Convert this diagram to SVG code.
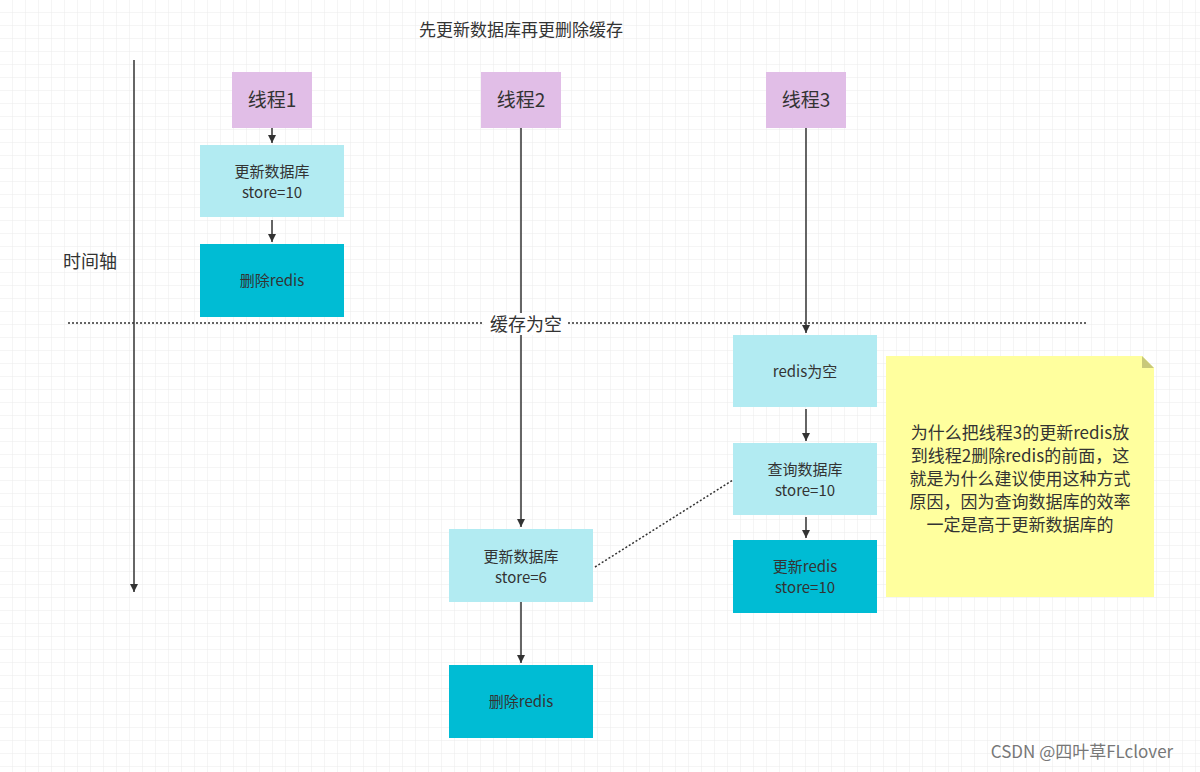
<svg xmlns="http://www.w3.org/2000/svg" width="1200" height="772" viewBox="0 0 1200 772">
<defs>
<pattern id="grid" width="13" height="13" patternUnits="userSpaceOnUse">
<path d="M13 0V13H0" fill="none" stroke="#ebebeb" stroke-width="1"/>
</pattern>
<marker id="arr" markerWidth="10" markerHeight="10" refX="9" refY="5" orient="auto" markerUnits="userSpaceOnUse">
<path d="M1 1L9 5L1 9Z" fill="#333"/>
</marker>
<style>
text{font-family:"Noto Sans CJK SC","Liberation Sans",sans-serif;fill:#333;text-anchor:middle}
.t{font-size:19px}
.s{font-size:15px}
.n{font-size:17px}
.th{fill:#e1bee7}
.lc{fill:#b2ebf2}
.dc{fill:#00bcd4}
.ln{stroke:#333;stroke-width:1.5;fill:none}
.dot{stroke:#333;stroke-width:1.5;stroke-dasharray:2 2;fill:none}
</style>
</defs>
<rect width="1200" height="772" fill="#fff"/>
<rect width="1200" height="772" fill="url(#grid)"/>
<text x="521" y="36" style="font-size:17px">先更新数据库再更删除缓存</text>
<text x="90" y="268" style="font-size:18px">时间轴</text>
<g id="connectors">
<path class="ln" d="M134 60V592" marker-end="url(#arr)"/>
<path class="dot" d="M68 323H1088"/>
<path class="ln" d="M272 128V143" marker-end="url(#arr)"/>
<path class="ln" d="M272 220V242" marker-end="url(#arr)"/>
<path class="ln" d="M521 128V527" marker-end="url(#arr)"/>
<path class="ln" d="M521 602V663" marker-end="url(#arr)"/>
<path class="ln" d="M806 128V333" marker-end="url(#arr)"/>
<path class="ln" d="M806 409V441" marker-end="url(#arr)"/>
<path class="ln" d="M806 517V538" marker-end="url(#arr)"/>
<path class="dot" d="M595 567L733 480"/>
</g>
<g id="empty-label"><rect x="484" y="313" width="84" height="22" fill="#fff"/><text x="526" y="331" style="font-size:18px">缓存为空</text></g>
<g id="t1"><rect class="th" x="232" y="72" width="80" height="56"/><text x="272" y="107" class="t">线程1</text></g>
<g id="t2"><rect class="th" x="481" y="72" width="80" height="56"/><text x="521" y="107" class="t">线程2</text></g>
<g id="t3"><rect class="th" x="766" y="72" width="80" height="56"/><text x="806" y="107" class="t">线程3</text></g>
<g id="t1-update"><rect class="lc" x="200" y="145" width="144" height="72"/><text x="272" y="177" class="s">更新数据库</text><text x="272" y="198" class="s">store=10</text></g>
<g id="t1-del"><rect class="dc" x="200" y="244" width="144" height="73"/><text x="272" y="286" class="s">删除redis</text></g>
<g id="t2-update"><rect class="lc" x="449" y="529" width="144" height="73"/><text x="521" y="562" class="s">更新数据库</text><text x="521" y="583" class="s">store=6</text></g>
<g id="t2-del"><rect class="dc" x="449" y="665" width="144" height="73"/><text x="521" y="707" class="s">删除redis</text></g>
<g id="t3-empty"><rect class="lc" x="733" y="335" width="144" height="72"/><text x="805" y="377" class="s">redis为空</text></g>
<g id="t3-query"><rect class="lc" x="733" y="443" width="144" height="72"/><text x="805" y="475" class="s">查询数据库</text><text x="805" y="496" class="s">store=10</text></g>
<g id="t3-set"><rect class="dc" x="733" y="540" width="144" height="73"/><text x="805" y="572" class="s">更新redis</text><text x="805" y="593" class="s">store=10</text></g>
<g id="note">
<path d="M886 356H1142L1154 368V597H886Z" fill="#ffff9e"/>
<path d="M1142 356V368H1154Z" fill="#c9c97a"/>
<text x="1020" y="439" class="n">为什么把线程3的更新redis放</text>
<text x="1020" y="462" class="n">到线程2删除redis的前面，这</text>
<text x="1020" y="485" class="n">就是为什么建议使用这种方式</text>
<text x="1020" y="508" class="n">原因，因为查询数据库的效率</text>
<text x="1020" y="531" class="n">一定是高于更新数据库的</text>
</g>
<text x="1082" y="758" style="fill:#777;font-size:17px">CSDN @四叶草FLclover</text>
</svg>
